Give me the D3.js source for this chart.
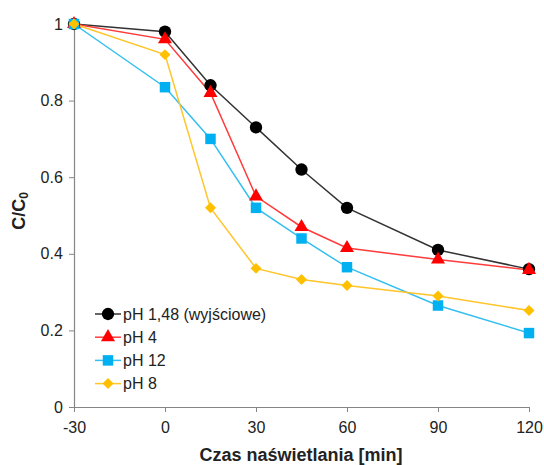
<!DOCTYPE html>
<html><head><meta charset="utf-8">
<script src="https://cdn.jsdelivr.net/npm/d3@7"></script>
<style>body{margin:0;background:#fff}svg{display:block}text{font-family:"Liberation Sans",Arial,sans-serif}</style>
</head><body>
<svg id="c" width="544" height="465"></svg>
<script>
const times = [-30, 0, 15, 30, 45, 60, 90, 120];
const ph148 = [1, 0.98, 0.84, 0.73, 0.62, 0.52, 0.41, 0.36];
const ph4   = [1, 0.96, 0.82, 0.55, 0.47, 0.415, 0.385, 0.358];
const ph12  = [1, 0.835, 0.70, 0.52, 0.44, 0.365, 0.265, 0.193];
const ph8   = [1, 0.92, 0.52, 0.362, 0.333, 0.317, 0.29, 0.252];
const seriesNames = ["pH 1,48 (wyjściowe)", "pH 4", "pH 12", "pH 8"];
const xTicks = [-30, 0, 30, 60, 90, 120];
const yTicks = [0, 0.2, 0.4, 0.6, 0.8, 1];

const diamond = {draw(ctx, size) { const r = Math.sqrt(size / 2); ctx.moveTo(0, -r); ctx.lineTo(r, 0); ctx.lineTo(0, r); ctx.lineTo(-r, 0); ctx.closePath(); }};

const series = [
  {name: seriesNames[0], values: ph148, line: "#333333", fill: "#000000", sym: d3.symbolCircle, size: 120},
  {name: seriesNames[1], values: ph4, line: "#ff3b3b", fill: "#ff0000", sym: d3.symbolTriangle, size: 85},
  {name: seriesNames[2], values: ph12, line: "#33bff0", fill: "#00b0f0", sym: d3.symbolSquare, size: 110},
  {name: seriesNames[3], values: ph8, line: "#ffc52a", fill: "#ffc000", sym: diamond, size: 60}
];

const svg = d3.select("#c");
const x = d3.scaleLinear().domain([-30, 120]).range([74, 529]);
const y = d3.scaleLinear().domain([0, 1]).range([407, 24]);

const xAxis = svg.append("g").attr("transform", "translate(0,407)")
  .call(d3.axisBottom(x).tickValues(xTicks).tickSize(5).tickSizeOuter(0).tickFormat(d => String(d)));
const yAxis = svg.append("g").attr("transform", "translate(74,0)")
  .call(d3.axisLeft(y).tickValues(yTicks).tickSize(5).tickSizeOuter(0).tickFormat(d => d === 0 || d === 1 ? String(d) : d.toFixed(1)));
[xAxis, yAxis].forEach(a => {
  a.select(".domain").attr("stroke", "#868686").attr("stroke-width", 1.2);
  a.selectAll(".tick line").attr("stroke", "#868686");
  a.selectAll("text").attr("font-size", 16).attr("fill", "#222").attr("font-family", "Liberation Sans, Arial, sans-serif");
});
xAxis.selectAll("text").attr("dy", "1.15em");
yAxis.selectAll("text").attr("dx", "-0.2em");

const line = d3.line().x((d, i) => x(times[i])).y(d => y(d));
series.forEach(s => {
  svg.append("path").datum(s.values).attr("d", line)
    .attr("fill", "none").attr("stroke", s.line).attr("stroke-width", 1.5);
});
series.forEach(s => {
  svg.selectAll(null).data(s.values).enter().append("path")
    .attr("transform", (d, i) => `translate(${x(times[i])},${y(d)})`)
    .attr("d", d3.symbol().type(s.sym).size(s.size))
    .attr("fill", s.fill);
});

// legend
const leg = svg.append("g");
series.forEach((s, i) => {
  const yy = 314 + i * 23.2;
  leg.append("line").attr("x1", 95).attr("x2", 121).attr("y1", yy).attr("y2", yy)
    .attr("stroke", s.line).attr("stroke-width", 1.5);
  leg.append("path").attr("transform", `translate(108,${yy})`)
    .attr("d", d3.symbol().type(s.sym).size(s.size)).attr("fill", s.fill);
  leg.append("text").attr("x", 123).attr("y", yy).attr("dy", "0.36em")
    .attr("font-size", 16).attr("fill", "#222").text(s.name);
});

// axis titles
svg.append("text").attr("x", 301).attr("y", 461).attr("text-anchor", "middle")
  .attr("font-size", 18).attr("font-weight", "bold").attr("fill", "#222").text("Czas naświetlania [min]");
const yt = svg.append("text").attr("transform", "translate(25,211) rotate(-90)").attr("text-anchor", "middle")
  .attr("font-size", 18).attr("font-weight", "bold").attr("fill", "#222");
yt.append("tspan").text("C/C");
yt.append("tspan").attr("font-size", 12).attr("dy", 3).text("0");
</script>
</body></html>
